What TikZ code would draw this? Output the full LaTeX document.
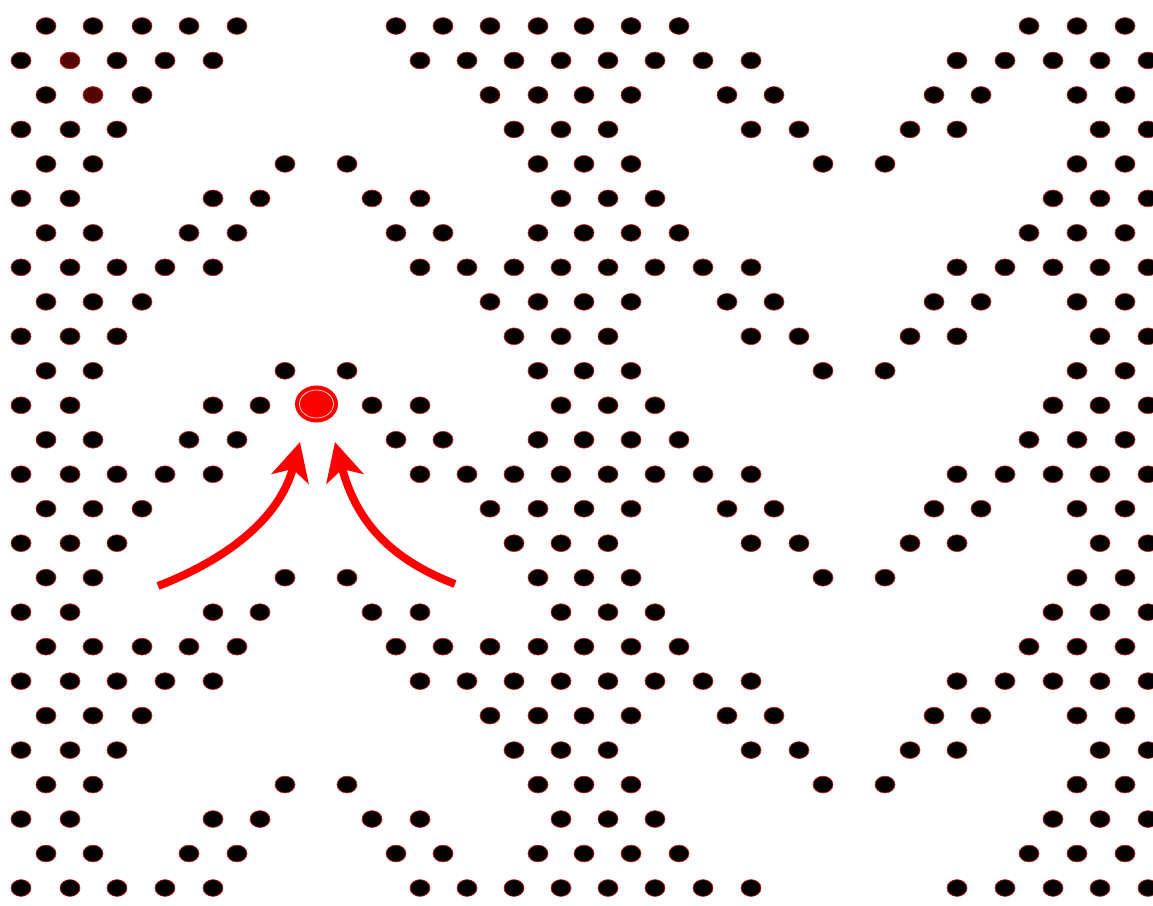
\documentclass[tikz,border=0pt]{standalone}
\usetikzlibrary{shapes.geometric,arrows.meta}
\definecolor{rim}{RGB}{205,35,35}
\definecolor{darkdot}{RGB}{85,5,5}
\definecolor{pred}{RGB}{255,0,0}
\tikzset{
  dotmark/.style={ellipse, fill=black, draw=rim, line width=0.7pt, minimum width=20pt, minimum height=16.8pt, inner sep=0pt, outer sep=0pt},
  reddotmark/.style={dotmark, fill=darkdot},
  targetmark/.style={ellipse, fill=pred, minimum width=43pt, minimum height=37pt, inner sep=0pt},
  bigarrow/.style={draw=pred, line width=8pt, -{Stealth[length=38pt,width=38pt,inset=10pt]}},
}
\def\colx{{21,46,70,93,117,142,165,189,213,237,260,285,316,347,372,396,420,443,467,490,514,538,561,584,608,631,655,679,703,727,751,774,799,823,854,885,910,934,957,981,1005,1029,1053,1077,1100,1125,1148}}
\def\RA{1,3,7,9,15,17,21,23,25,27,41,43,45}
\def\RAfull{1,3,5,7,9,15,17,19,21,23,25,27,41,43,45}
\def\RB{0,2,4,6,8,16,18,20,22,24,26,28,30,38,40,42,44,46}
\def\RBtop{0,4,6,8,16,18,20,22,24,26,28,30,38,40,42,44,46}
\def\RC{1,3,5,19,21,23,25,29,31,37,39,43,45}
\def\RCtop{1,5,19,21,23,25,29,31,37,39,43,45}
\def\RD{0,2,4,20,22,24,30,32,36,38,44,46}
\def\RE{1,3,11,13,21,23,25,33,35,43,45}
\def\RF{0,2,8,10,14,16,22,24,26,42,44,46}
\def\Rtwo{2}
\def\Rthree{3}
\newcommand\dotrow[3][dotmark]{%
  \foreach \ci in #3 {%
    \pgfmathsetmacro\xx{\colx[\ci]}%
    \pgfmathsetmacro\yy{26+34.48*(#2-1)}%
    \node[#1] (d#2-\ci) at (\xx,\yy) {};
  }%
}
\begin{document}
\begin{tikzpicture}[x=1pt,y=-1pt]
\useasboundingbox (0,0) rectangle (1153,905);
\fill[white] (0,0) rectangle (1153,905);
\clip (0,0) rectangle (1153,905);
\dotrow{1}{\RAfull}
\dotrow{2}{\RBtop}
\dotrow[reddotmark]{2}{\Rtwo}
\dotrow{3}{\RCtop}
\dotrow[reddotmark]{3}{\Rthree}
\dotrow{4}{\RD}
\dotrow{5}{\RE}
\dotrow{6}{\RF}
\dotrow{7}{\RA}
\dotrow{8}{\RB}
\dotrow{9}{\RC}
\dotrow{10}{\RD}
\dotrow{11}{\RE}
\dotrow{12}{\RF}
\dotrow{13}{\RA}
\dotrow{14}{\RB}
\dotrow{15}{\RC}
\dotrow{16}{\RD}
\dotrow{17}{\RE}
\dotrow{18}{\RF}
\dotrow{19}{\RAfull}
\dotrow{20}{\RB}
\dotrow{21}{\RC}
\dotrow{22}{\RD}
\dotrow{23}{\RE}
\dotrow{24}{\RF}
\dotrow{25}{\RA}
\dotrow{26}{\RB}
% target
\node[targetmark] (target) at (316.5,404) {};
\draw[white, line width=0.6pt] (target.center) ellipse [x radius=17pt, y radius=14pt];
% arrows
\coordinate (la) at (158,586);
\coordinate (lt) at (300,442);
\coordinate (ra) at (455,584);
\coordinate (rt) at (335,442);
\draw[bigarrow] (la) .. controls (225,560) and (279,520) .. (lt);
\draw[bigarrow] (ra) .. controls (388,558) and (356,520) .. (rt);
\end{tikzpicture}
\end{document}
